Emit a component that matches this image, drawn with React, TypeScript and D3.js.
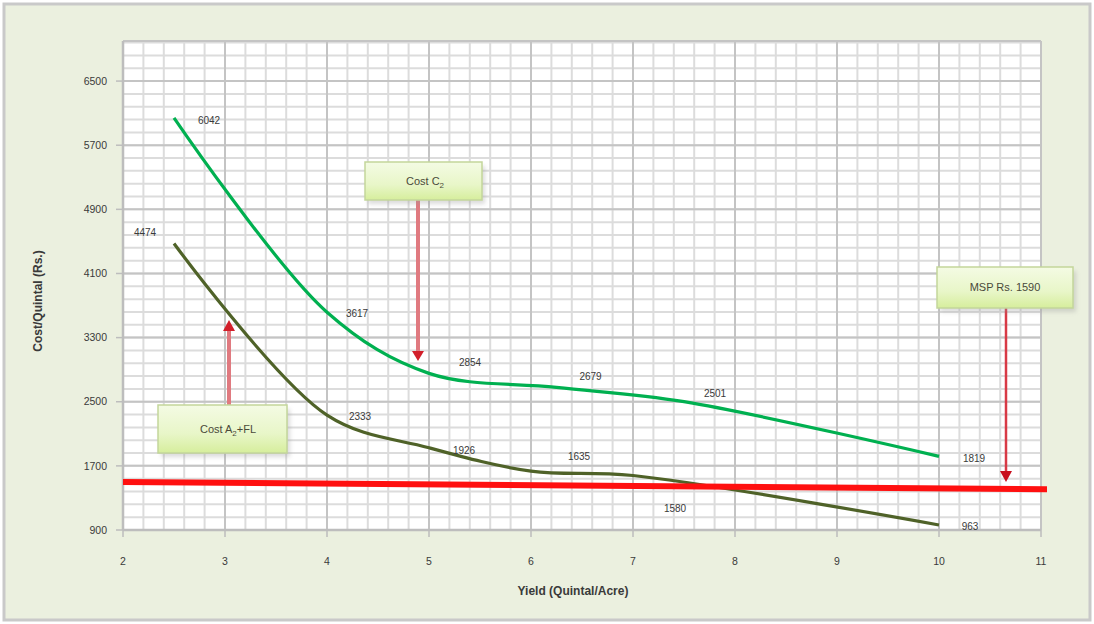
import React from "react";
import * as d3 from "d3";

// ---- data ----
const costC2X = [2.5, 4, 5, 6.25, 7.5, 10];
const costC2Y = [6042, 3617, 2854, 2679, 2501, 1819];
const costA2X = [2.5, 4, 5, 6, 7, 10];
const costA2Y = [4474, 2333, 1926, 1635, 1580, 963];
const xTicks = [2, 3, 4, 5, 6, 7, 8, 9, 10, 11];
const yTicks = [900, 1700, 2500, 3300, 4100, 4900, 5700, 6500];
const mspLineX = [2, 11];
const mspLineY = [1498, 1408];

// label offsets (style)
const c2LabelOff = [[35, 3], [30, 1], [41, -11], [34, -11], [31, -8], [35, 2]];
const a2LabelOff = [[-29, -11], [33, 1], [35, 3], [48, -15], [42, 33], [31, 2]];

const W = 1094, H = 624;
const x = d3.scaleLinear().domain([2, 11]).range([123, 1041]);
const y = d3.scaleLinear().domain([900, 7000]).range([530, 41]);

const minorX = d3.range(2, 11.0001, 0.2);
const minorY = d3.range(900, 7000.001, 160);

const line = d3.line<[number, number]>()
  .x(d => x(d[0])).y(d => y(d[1]))
  .curve(d3.curveCatmullRom.alpha(0.5));

const font = "'Liberation Sans', Arial, sans-serif";
const txt = "#3a3a3a";

function Callout({ x0, y0, w, h, children }: any) {
  return (
    <g>
      <rect x={x0 + 3} y={y0 + 4} width={w} height={h} fill="#9a9a9a" opacity={0.35} filter="url(#blur)" />
      <rect x={x0} y={y0} width={w} height={h} fill="url(#boxg)" stroke="#c3d69b" strokeWidth={1.5} />
      {children}
    </g>
  );
}

export default function App() {
  const c2 = costC2X.map((v, i) => [v, costC2Y[i]] as [number, number]);
  const a2 = costA2X.map((v, i) => [v, costA2Y[i]] as [number, number]);
  return (
    <svg width={W} height={H} style={{ position: "absolute", left: 0, top: 0 }} fontFamily={font}>
      <defs>
        <linearGradient id="boxg" x1="0" y1="0" x2="0" y2="1">
          <stop offset="0" stopColor="#f4fbe4" />
          <stop offset="0.6" stopColor="#e8f6c8" />
          <stop offset="1" stopColor="#d6ee9c" />
        </linearGradient>
        <filter id="blur"><feGaussianBlur stdDeviation="2" /></filter>
      </defs>
      <rect x={0} y={0} width={W} height={H} fill="#ffffff" />
      <rect x={4} y={4} width={1086} height={616} fill="#ebf0df" stroke="#c9c9c9" strokeWidth={3} />
      {/* plot area */}
      <rect x={x(2)} y={y(7000)} width={x(11) - x(2)} height={y(900) - y(7000)} fill="#ffffff" />
      {minorX.map((v, i) => (
        <line key={"mx" + i} x1={x(v)} x2={x(v)} y1={y(900)} y2={y(7000)} stroke="#dcdcdc" strokeWidth={2} />
      ))}
      {minorY.map((v, i) => (
        <line key={"my" + i} y1={y(v)} y2={y(v)} x1={x(2)} x2={x(11)} stroke="#dcdcdc" strokeWidth={2} />
      ))}
      {xTicks.map(v => (
        <line key={"gx" + v} x1={x(v)} x2={x(v)} y1={y(900)} y2={y(7000)} stroke="#c4c4c4" strokeWidth={2} />
      ))}
      {yTicks.map(v => (
        <line key={"gy" + v} y1={y(v)} y2={y(v)} x1={x(2)} x2={x(11)} stroke="#c4c4c4" strokeWidth={2} />
      ))}
      <line x1={x(2)} x2={x(11)} y1={y(7000)} y2={y(7000)} stroke="#c4c4c4" strokeWidth={2} />
      {/* axes */}
      <line x1={x(2)} x2={x(2)} y1={y(900)} y2={y(7000)} stroke="#bdbdbd" strokeWidth={2.5} />
      <line x1={x(2)} x2={x(11)} y1={y(900)} y2={y(900)} stroke="#bdbdbd" strokeWidth={2.5} />
      {yTicks.map(v => (
        <g key={"yt" + v}>
          <line x1={x(2) - 7} x2={x(2)} y1={y(v)} y2={y(v)} stroke="#bdbdbd" strokeWidth={1.5} />
          <text x={107} y={y(v)} dy="0.35em" textAnchor="end" fontSize={10.5} fill={txt}>{v}</text>
        </g>
      ))}
      {xTicks.map(v => (
        <g key={"xt" + v}>
          <line x1={x(v)} x2={x(v)} y1={y(900)} y2={y(900) + 7} stroke="#bdbdbd" strokeWidth={1.5} />
          <text x={x(v)} y={561} dy="0.35em" textAnchor="middle" fontSize={10.5} fill={txt}>{v}</text>
        </g>
      ))}
      <text x={573} y={591} dy="0.35em" textAnchor="middle" fontSize={12} fill={txt} fontWeight="bold">Yield (Quintal/Acre)</text>
      <text transform="translate(38,301) rotate(-90)" dy="0.35em" textAnchor="middle" fontSize={12} fill={txt} fontWeight="bold">Cost/Quintal (Rs.)</text>

      {/* series */}
      <path d={line(c2) || ""} fill="none" stroke="#00b050" strokeWidth={3.2} />
      <path d={line(a2) || ""} fill="none" stroke="#4f6228" strokeWidth={3.2} />
      {/* MSP line */}
      <line x1={x(mspLineX[0])} x2={x(mspLineX[1]) + 6} y1={y(mspLineY[0])} y2={y(mspLineY[1])} stroke="#ff1010" strokeWidth={6} />

      {c2.map((p, i) => (
        <text key={"lc" + i} x={x(p[0]) + c2LabelOff[i][0]} y={y(p[1]) + c2LabelOff[i][1]} dy="0.35em" textAnchor="middle" fontSize={10} fill={txt}>{p[1]}</text>
      ))}
      {a2.map((p, i) => (
        <text key={"la" + i} x={x(p[0]) + a2LabelOff[i][0]} y={y(p[1]) + a2LabelOff[i][1]} dy="0.35em" textAnchor="middle" fontSize={10} fill={txt}>{p[1]}</text>
      ))}

      {/* Cost C2 callout */}
      <line x1={418} x2={418} y1={200} y2={352} stroke="#e07a80" strokeWidth={4} />
      <path d="M412,351 L424,351 L418,361 Z" fill="#d21f2a" />
      <Callout x0={365} y0={162} w={117} h={38}>
        <text x={425} y={181} dy="0.35em" textAnchor="middle" fontSize={11} fill="#4a4a3a">
          Cost C<tspan fontSize={8} dy="3">2</tspan>
        </text>
      </Callout>

      {/* Cost A2+FL callout */}
      <line x1={229} x2={229} y1={405} y2={330} stroke="#e07a80" strokeWidth={4} />
      <path d="M223,331 L235,331 L229,320 Z" fill="#d21f2a" />
      <Callout x0={158} y0={405} w={129} h={48}>
        <text x={228} y={429} dy="0.35em" textAnchor="middle" fontSize={11} fill="#4a4a3a">
          Cost A<tspan fontSize={8} dy="3">2</tspan><tspan dy="-3">+FL</tspan>
        </text>
      </Callout>

      {/* MSP callout */}
      <line x1={1006} x2={1006} y1={308} y2={473} stroke="#d83a46" strokeWidth={2.5} />
      <path d="M1000,471 L1012,471 L1006,482 Z" fill="#c8101e" />
      <Callout x0={937} y0={267} w={136} h={41}>
        <text x={1005} y={287} dy="0.35em" textAnchor="middle" fontSize={11} fill="#4a4a3a">MSP Rs. 1590</text>
      </Callout>
    </svg>
  );
}
